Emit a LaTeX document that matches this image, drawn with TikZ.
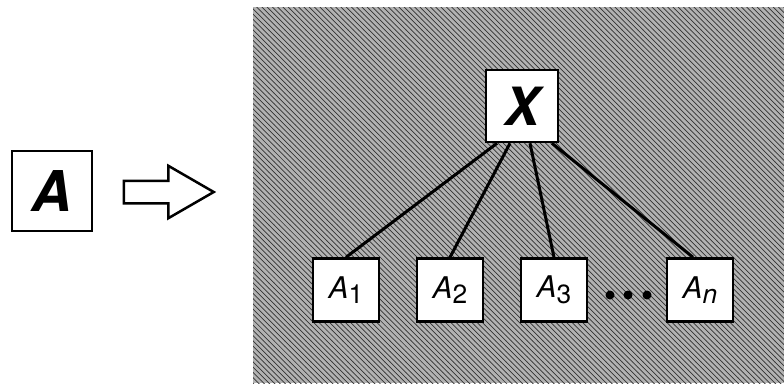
\documentclass[tikz,border=0pt]{standalone}
\usepackage{fontspec}
\setmainfont{TeX Gyre Heros}
\usetikzlibrary{patterns,shapes.arrows}
\newcommand{\leafsub}[1]{\raisebox{-0.35ex}{\upshape\fontsize{15}{15}\selectfont #1}}
\tikzset{
  box/.style={draw, line width=0.5mm, fill=white, inner sep=0pt},
  leaf/.style={box, minimum width=1.32cm, minimum height=1.26cm, font=\itshape\fontsize{17}{17}\selectfont},
  branch/.style={line width=0.6mm},
}

\begin{document}
\begin{tikzpicture}[x=0.02cm, y=-0.02cm]
		%%%%% START %%%%%
		\useasboundingbox (0,0) rectangle (784,383);
		
		% shaded panel
		\fill[black!30] (253,7) rectangle (784,383);
		\fill[pattern=north west lines, pattern color=black!80] (253,7) rectangle (784,383);
		
		% left side
		\node[box, minimum size=1.6cm, font=\bfseries\itshape\fontsize{32}{32}\selectfont] (a) at (52,191) {A};
		\node[single arrow, draw, line width=0.5mm, inner sep=0.2cm, minimum height=1.8cm,
		      single arrow head extend=0.3cm, single arrow tip angle=60] (arr) at (159,192) {};
		
		% tree
		\node[box, minimum size=1.44cm, font=\bfseries\itshape\fontsize{30}{30}\selectfont] (x) at (522,106) {X};
		\node[leaf] (a1) at (346,290) {A\leafsub{1}};
		\node[leaf] (a2) at (450,290) {A\leafsub{2}};
		\node[leaf] (a3) at (554,290) {A\leafsub{3}};
		\node[leaf] (an) at (700,290) {A\leafsub{\itshape n}};
		\foreach \dx in {610,628,647}
			\fill (\dx,295) circle (4.5);
		
		\draw[branch] ([xshift=-0.5cm]x.south) -- (a1.north);
		\draw[branch] ([xshift=-0.24cm]x.south) -- (a2.north);
		\draw[branch] ([xshift=0.16cm]x.south) -- (a3.north);
		\draw[branch] ([xshift=0.6cm]x.south) -- ([xshift=-0.14cm]an.north);
		%%%%% END %%%%%
\end{tikzpicture}
\end{document}
